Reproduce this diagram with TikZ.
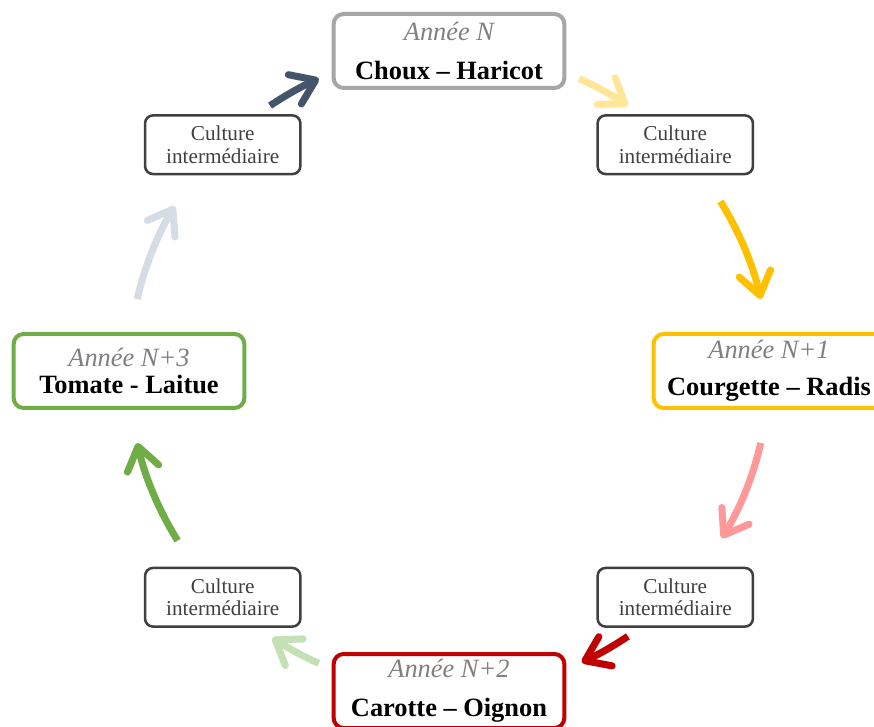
\documentclass[tikz,border=0pt]{standalone}
\usepackage{fontspec}
\setmainfont{Liberation Serif}
\usetikzlibrary{arrows.meta}

\definecolor{grisbord}{HTML}{A6A6A6}
\definecolor{grisfonce}{HTML}{404040}
\definecolor{gristexte}{HTML}{808080}
\definecolor{ardoise}{HTML}{44546A}
\definecolor{jaunepale}{HTML}{FFE699}
\definecolor{or}{HTML}{FFC000}
\definecolor{rose}{HTML}{FF9999}
\definecolor{rouge}{HTML}{C00000}
\definecolor{vertpale}{HTML}{C5E0B4}
\definecolor{vert}{HTML}{70AD47}
\definecolor{bleupale}{HTML}{D6DCE5}

\newcommand{\annee}[1]{{\itshape\color{gristexte}Année #1}}

\begin{document}
\begin{tikzpicture}[x=0.75pt,y=0.75pt,
	annee/.style={draw=#1,line width=3pt,rounded corners=7.5pt,fill=white,
		minimum width=173pt,minimum height=55.5pt,inner sep=0pt,align=center,
		font=\fontsize{19.8}{20}\selectfont},
	inter/.style={draw=grisfonce,line width=1.9pt,rounded corners=6pt,text=grisfonce,
		minimum width=116.5pt,minimum height=44pt,inner sep=0pt,align=center,
		font=\fontsize{15.9}{17}\selectfont},
	fleche/.style={draw=#1,line width=5.3pt,-{Straight Barb[round,length=17pt,width=24pt]}}
	]
	\path[use as bounding box,fill=white] (-449,-356) rectangle (425,371);
	\node[annee=grisbord] (an0) at (90:320) {\annee{N}\\[9pt]\textbf{Choux – Haricot}};
	\node[annee=or] (an1) at (0:320) {\annee{N+1}\\[8pt]\textbf{Courgette – Radis}};
	\node[annee=rouge] (an2) at (270:320) {\annee{N+2}\\[9pt]\textbf{Carotte – Oignon}};
	\node[annee=vert] (an3) at (180:320) {\annee{N+3}\\[0pt]\textbf{Tomate - Laitue}};
	\node[inter] (ci1) at (45:320) {Culture\\intermédiaire};
	\node[inter] (ci2) at (-45:320) {Culture\\intermédiaire};
	\node[inter] (ci3) at (-135:320) {Culture\\intermédiaire};
	\node[inter] (ci4) at (135:320) {Culture\\intermédiaire};
	\coordinate (f1) at (124:320);
	\coordinate (f2) at (66:320);
	\coordinate (f3) at (32:320);
	\coordinate (f4) at (-13:320);
	\coordinate (f5) at (-56:320);
	\coordinate (f6) at (-114:320);
	\coordinate (f7) at (-148:320);
	\coordinate (f8) at (167:320);
	\draw[fleche=ardoise] (f1) arc[start angle=124,end angle=114,radius=240pt];
	\draw[fleche=jaunepale] (f2) arc[start angle=66,end angle=56,radius=240pt];
	\draw[fleche=or] (f3) arc[start angle=32,end angle=13,radius=240pt];
	\draw[fleche=rose] (f4) arc[start angle=-13,end angle=-31.5,radius=240pt];
	\draw[fleche=rouge] (f5) arc[start angle=-56,end angle=-65.5,radius=240pt];
	\draw[fleche=vertpale] (f6) arc[start angle=-114,end angle=-123.5,radius=240pt];
	\draw[fleche=vert] (f7) arc[start angle=-148,end angle=-167,radius=240pt];
	\draw[fleche=bleupale] (f8) arc[start angle=167,end angle=149,radius=240pt];
\end{tikzpicture}
\end{document}
